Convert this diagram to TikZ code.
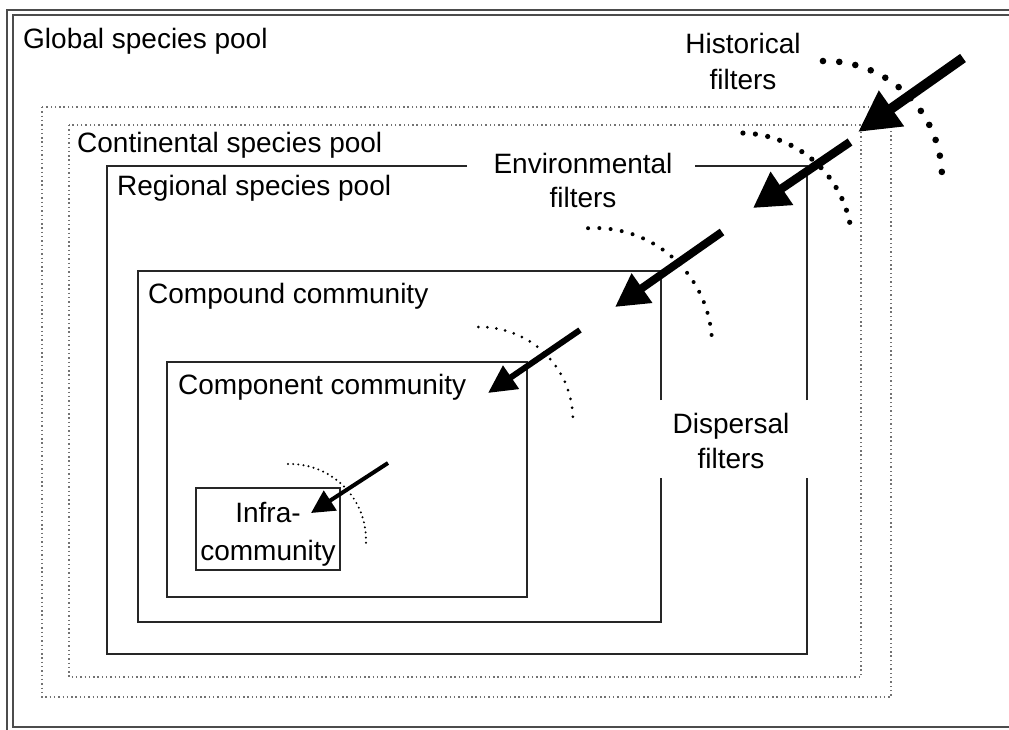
\documentclass[tikz,border=0pt]{standalone}
\usepackage{fontspec}
\setmainfont{Liberation Sans}
\usetikzlibrary{arrows.meta}
\tikzset{
  lbl/.style={font=\fontsize{28}{34}\selectfont, inner sep=0pt, anchor=base},
  lblw/.style={lbl, anchor=base west},
  boxline/.style={line width=1.8pt, black!85},
  frameline/.style={line width=1.8pt, black!70},
  dotbox/.style={black!55, line width=1.4pt, dash pattern=on 1.4pt off 2.9pt},
  filt/.style args={#1/#2/#3}{line width=#1pt, -{Triangle[length=#2pt,width=#3pt]}},
}
\begin{document}
\begin{tikzpicture}[x=1pt,y=-1pt]
\useasboundingbox (0,0) rectangle (1009,729);
\clip (0,0) rectangle (1009,729);
\fill[white] (0,0) rectangle (1009,729);
% outer double frame
\draw[frameline] (7,10) rectangle (1030,735);
\draw[frameline] (13,15) rectangle (1024,727);
% dotted pools
\draw[dotbox] (42,107) rectangle (891,697);
\draw[dotbox] (69,125) rectangle (861,677);
% regional
\draw[boxline] (467,166) -- (107,166) -- (107,654) -- (807,654) -- (807,478);
\draw[boxline] (807,400) -- (807,166) -- (695,166);
% compound
\draw[boxline] (661,400) -- (661,271) -- (138,271) -- (138,622) -- (661,622) -- (661,478);
% component
\draw[boxline] (167,362) rectangle (527,597);
% infra
\node[draw, boxline, minimum width=144pt, minimum height=82pt, inner sep=0pt] (infra) at (268,529) {};

% labels
\node[lblw] (global) at (23,48) {Global species pool};
\node[lblw] (cont) at (77,152) {Continental species pool};
\node[lblw] (reg) at (117,195) {Regional species pool};
\node[lblw] (compound) at (148,303) {Compound community};
\node[lblw] (component) at (178,394) {Component community};
\node[lbl] (infraA) at (268,522) {Infra-};
\node[lbl] (infraB) at (268,560) {community};
\node[lbl] (histA) at (743,53) {Historical};
\node[lbl] (histB) at (743,89) {filters};
\node[lbl] (envA) at (583,173) {Environmental};
\node[lbl] (envB) at (583,207) {filters};
\node[lbl] (dispA) at (731,433) {Dispersal};
\node[lbl] (dispB) at (731,468) {filters};

% dotted arcs
\foreach \i in {0,...,11}
  \fill ({825+117*cos(91-8*\i)},{178-117*sin(91-8*\i)}) circle[radius=3.3pt];
\foreach \i in {0,...,12}
  \fill ({740+112*cos(88.5-6.4*\i)},{245-112*sin(88.5-6.4*\i)}) circle[radius=2.6pt];
\foreach \i in {0,...,16}
  \fill ({595+117*cos(93.4-5.53*\i)},{345-117*sin(93.4-5.53*\i)}) circle[radius=2pt];
\foreach \i in {0,...,16}
  \fill ({480+93*cos(91-5.56*\i)},{420-93*sin(91-5.56*\i)}) circle[radius=1.5pt];
\foreach \i in {0,...,24}
  \fill ({290+76*cos(91.5-3.9*\i)},{540-76*sin(91.5-3.9*\i)}) circle[radius=1.1pt];

% arrows
\coordinate (a1s) at (963,58);  \coordinate (a1e) at (858,132);
\coordinate (a2s) at (850,142); \coordinate (a2e) at (753,208);
\coordinate (a3s) at (722,232); \coordinate (a3e) at (615,307);
\coordinate (a4s) at (580,330); \coordinate (a4e) at (488,393);
\coordinate (a5s) at (388,463); \coordinate (a5e) at (311,513);
\draw[filt=10/41/41] (a1s) -- (a1e);
\draw[filt=8.5/35/38] (a2s) -- (a2e);
\draw[filt=8/33/34] (a3s) -- (a3e);
\draw[filt=6/28/27] (a4s) -- (a4e);
\draw[filt=4/23/23] (a5s) -- (a5e);
\end{tikzpicture}
\end{document}
